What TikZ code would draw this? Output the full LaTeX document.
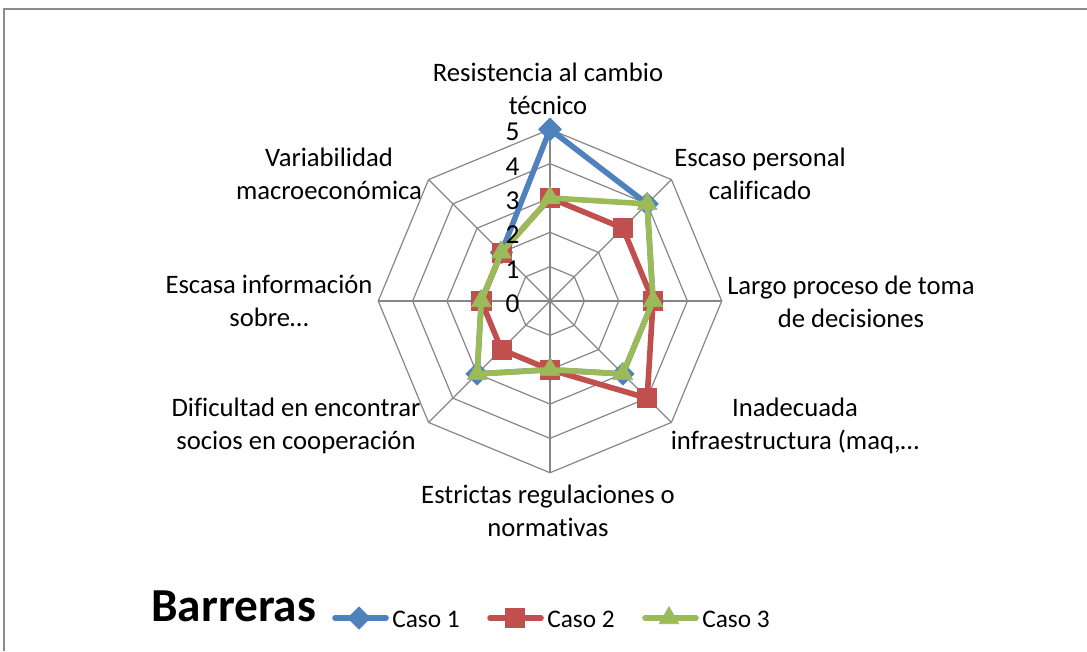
\documentclass[tikz,border=0pt]{standalone}
\usepackage{fontspec}
\setmainfont[Ligatures=NoCommon]{Carlito}
\usetikzlibrary{plotmarks}

\definecolor{caseblue}{HTML}{4F81BD}
\definecolor{casered}{HTML}{C0504D}
\definecolor{casegreen}{HTML}{9BBB59}
\definecolor{gridgray}{HTML}{868686}

\tikzset{
	grid line/.style = {draw=gridgray, line width=0.9pt},
	caso line/.style = {draw=#1, line width=4.2pt, line join=round, line cap=round},
	caso1/.style = {caso line=caseblue, mark=square*, mark size=6pt,
		mark options={rotate=45, fill=caseblue, draw=caseblue, line width=0.4pt}},
	caso2/.style = {caso line=casered, mark=square*, mark size=7.2pt,
		mark options={fill=casered, draw=casered, line width=0.4pt}},
	caso3/.style = {caso line=casegreen, mark=triangle*, mark size=8.6pt,
		mark options={fill=casegreen, draw=casegreen, line width=0.4pt}},
	axis label/.style = {font=\fontsize{20}{24.4}\selectfont, align=center, inner sep=0pt},
	tick label/.style = {font=\fontsize{20.5}{24}\selectfont, anchor=east, inner sep=0pt},
	legend text/.style = {font=\fontsize{19}{23}\selectfont, anchor=base west, inner sep=0pt}
}

\begin{document}
\begin{tikzpicture}[x=0.75pt, y=-0.75pt]
	\useasboundingbox (0,0) rectangle (1087,651);
	\draw[draw=gray!90, line width=1pt] (4,651) -- (4,9) -- (1087,9);

	% radar grid, one unit = one step of the scale
	\begin{scope}[shift={(550,301)}, x=25.76pt, y=25.76pt]
		\foreach \r in {1,...,5}
			\draw[grid line] (90:\r) -- (45:\r) -- (0:\r) -- (-45:\r) -- (-90:\r) -- (-135:\r) -- (180:\r) -- (135:\r) -- cycle;
		\foreach \a in {0,45,...,315}
			\draw[grid line] (0,0) -- (\a:5);

		\draw[caso1] plot coordinates {(90:5) (45:4) (0:3) (-45:3) (-90:2) (-135:3) (180:2) (135:2) (90:5)};
		\draw[caso2] plot coordinates {(90:3) (45:3) (0:3) (-45:4) (-90:2) (-135:2) (180:2) (135:2) (90:3)};
		\draw[caso3] plot coordinates {(90:3) (45:4) (0:3) (-45:3) (-90:2) (-135:3) (180:2) (135:2) (90:3)};

		\foreach \v in {0,...,5}
			\node[tick label] (tick\v) at (-0.88,\v-0.08) {\v};
	\end{scope}

	\node[axis label] (resistencia) at (548,89) {Resistencia al cambio\\técnico};
	\node[axis label] (escaso) at (760,174) {Escaso personal\\calificado};
	\node[axis label] (largo) at (851,302) {Largo proceso de toma\\de decisiones};
	\node[axis label] (inadecuada) at (795,426) {Inadecuada\\infraestructura (maq,…};
	\node[axis label] (estrictas) at (548,511) {Estrictas regulaciones o\\normativas};
	\node[axis label] (dificultad) at (296,426) {Dificultad en encontrar\\socios en cooperación};
	\node[axis label] (escasa) at (269,301) {Escasa información\\sobre…};
	\node[axis label] (variabilidad) at (329,174) {Variabilidad\\macroeconómica};

	% legend
	\node[anchor=base west, inner sep=0pt, font=\bfseries\fontsize{35.5}{42}\selectfont] (titulo) at (151,621) {Barreras};
	\draw[caso1, mark indices={2}] plot coordinates {(335,618) (359,618) (386,618)};
	\node[legend text] (caso1) at (392,627) {Caso 1};
	\draw[caso2, mark indices={2}] plot coordinates {(490,618) (515,618) (541,618)};
	\node[legend text] (caso2) at (547,627) {Caso 2};
	\draw[caso3, mark indices={2}] plot coordinates {(645,618) (669,618) (696,618)};
	\node[legend text] (caso3) at (702,627) {Caso 3};
\end{tikzpicture}
\end{document}
